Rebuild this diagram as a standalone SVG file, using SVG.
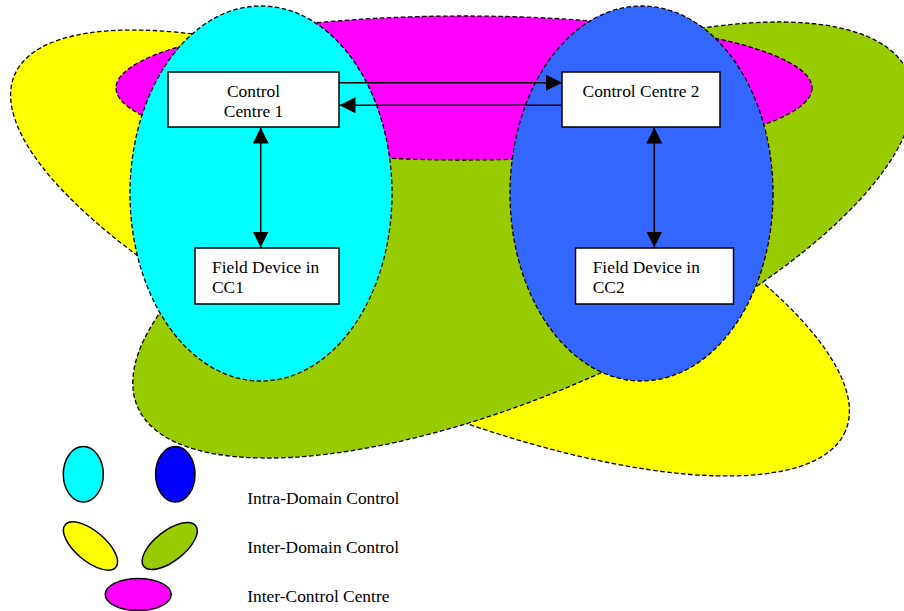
<svg xmlns="http://www.w3.org/2000/svg" width="904" height="611" viewBox="0 0 904 611">
<style>
.zone{stroke:#000;stroke-width:1.3;stroke-dasharray:4.5,2.5}
.box{fill:#fff;stroke:#000;stroke-width:1.5}
.lbl{font-family:"Liberation Serif","Times New Roman",serif;font-size:17.4px;fill:#000}
.conn{stroke:#000;stroke-width:1.5;fill:none}
.leg{stroke:#000;stroke-width:1.5}
</style>
<defs>
<marker id="ah" viewBox="0 0 16 16" refX="16" refY="8" markerWidth="16" markerHeight="16" markerUnits="userSpaceOnUse" orient="auto-start-reverse">
<path d="M0,0 L16,8 L0,16 z" fill="#000"/>
</marker>
</defs>
<rect width="904" height="611" fill="#fff"/>
<g id="inter-domain-yellow"><ellipse class="zone" cx="430" cy="253" rx="452" ry="146" fill="#ffff00" transform="rotate(23.2 430 253)"/></g>
<g id="inter-domain-green"><ellipse class="zone" cx="523" cy="240" rx="420" ry="153" fill="#99cc00" transform="rotate(-23.4 523 240)"/></g>
<g id="inter-control-centre"><ellipse class="zone" cx="464" cy="88" rx="348" ry="72" fill="#ff00ff"/></g>
<g id="intra-domain-cc1"><ellipse class="zone" cx="261" cy="193.5" rx="131" ry="187.5" fill="#00ffff"/></g>
<g id="intra-domain-cc2"><ellipse class="zone" cx="641.5" cy="193.5" rx="131.5" ry="187.5" fill="#3366ff"/></g>
<g id="cc1">
<rect class="box" x="168" y="72" width="171" height="55"/>
<text class="lbl" x="253.5" y="97.3" text-anchor="middle">Control</text>
<text class="lbl" x="253.5" y="117.3" text-anchor="middle">Centre 1</text>
</g>
<g id="cc2">
<rect class="box" x="562" y="72" width="158" height="55"/>
<text class="lbl" x="641" y="97.3" text-anchor="middle">Control Centre 2</text>
</g>
<g id="fd1">
<rect class="box" x="195" y="248" width="144" height="56"/>
<text class="lbl" x="212" y="272.7">Field Device in</text>
<text class="lbl" x="212" y="292.7">CC1</text>
</g>
<g id="fd2">
<rect class="box" x="575.5" y="248" width="158" height="56"/>
<text class="lbl" x="592.7" y="272.7">Field Device in</text>
<text class="lbl" x="592.7" y="292.7">CC2</text>
</g>
<g id="connectors">
<line class="conn" x1="339" y1="82.7" x2="562" y2="82.7" marker-end="url(#ah)"/>
<line class="conn" x1="562" y1="105.3" x2="339.5" y2="105.3" marker-end="url(#ah)"/>
<line class="conn" x1="260.7" y1="127.5" x2="260.7" y2="247.5" marker-start="url(#ah)" marker-end="url(#ah)"/>
<line class="conn" x1="654.3" y1="127.5" x2="654.3" y2="247.5" marker-start="url(#ah)" marker-end="url(#ah)"/>
</g>
<g id="legend">
<ellipse class="leg" cx="83.3" cy="474.3" rx="20" ry="27.7" fill="#00ffff"/>
<ellipse class="leg" cx="175.3" cy="474.3" rx="19.7" ry="27.7" fill="#0000ff"/>
<ellipse class="leg" cx="90.5" cy="546" rx="33" ry="15" fill="#ffff00" transform="rotate(40 90.5 546)"/>
<ellipse class="leg" cx="169.7" cy="546" rx="33" ry="15" fill="#99cc00" transform="rotate(-38 169.7 546)"/>
<ellipse class="leg" cx="138.2" cy="594.5" rx="33" ry="16" fill="#ff00ff"/>
<text class="lbl" x="247.3" y="504">Intra-Domain Control</text>
<text class="lbl" x="247.3" y="553.3">Inter-Domain Control</text>
<text class="lbl" x="247.3" y="602.3">Inter-Control Centre</text>
</g>
</svg>
